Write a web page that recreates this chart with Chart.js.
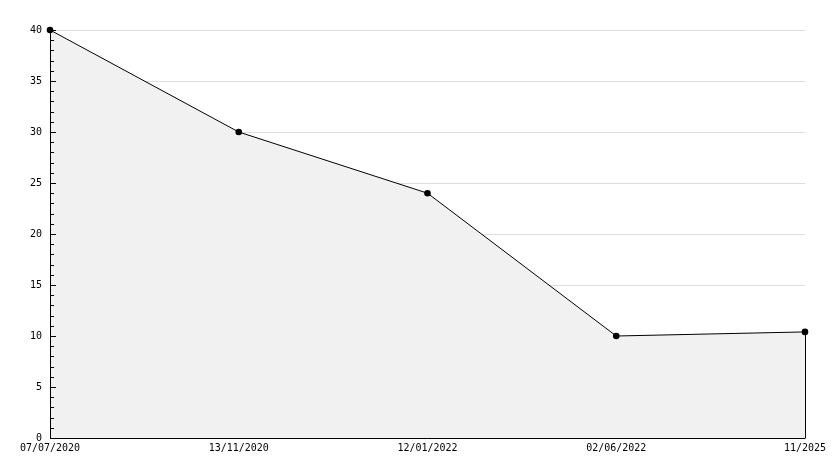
<!DOCTYPE html>
<html><head><meta charset="utf-8">
<style>html,body{margin:0;padding:0;background:#fff}#wrap{width:834px;height:468px}</style>
<script src="https://cdn.jsdelivr.net/npm/chart.js@4/dist/chart.umd.min.js"></script>
</head><body><div id="wrap"><canvas id="c" width="834" height="468"></canvas></div>
<script>
const categories = ["07/07/2020", "13/11/2020", "12/01/2022", "02/06/2022", "11/2025"];
const values = [40, 30, 24, 10, 10.4];
const yTicks = [0, 5, 10, 15, 20, 25, 30, 35, 40];

const axisPlugin = {
  id: 'axisPlugin',
  afterDatasetsDraw(chart) {
    const ctx = chart.ctx, y = chart.scales.y, x = chart.scales.x, a = chart.chartArea;
    ctx.save();
    ctx.strokeStyle = '#000'; ctx.lineWidth = 1;
    ctx.beginPath();
    ctx.moveTo(a.left + 0.5, a.top); ctx.lineTo(a.left + 0.5, a.bottom + 0.5);
    ctx.lineTo(a.right, a.bottom + 0.5);
    const lx = Math.round(x.getPixelForValue(values.length - 1)) + 0.5;
    ctx.moveTo(lx, y.getPixelForValue(values[values.length - 1]));
    ctx.lineTo(lx, a.bottom + 0.5);
    for (let v = 0; v <= 40; v++) {
      const py = Math.round(y.getPixelForValue(v)) + 0.5;
      const len = (v % 5 === 0) ? 5 : 3;
      ctx.moveTo(a.left, py); ctx.lineTo(a.left + 1 + len, py);
    }
    ctx.stroke();
    ctx.restore();
  }
};

new Chart(document.getElementById('c'), {
  type: 'line',
  data: {
    labels: categories,
    datasets: [{
      data: values,
      borderColor: '#000',
      borderWidth: 1,
      backgroundColor: '#f1f1f1',
      fill: 'origin',
      tension: 0,
      clip: false,
      pointStyle: 'circle',
      pointRadius: 3.3,
      pointBackgroundColor: '#000',
      pointBorderColor: '#000',
      pointBorderWidth: 0
    }]
  },
  options: {
    responsive: false,
    animation: false,
    devicePixelRatio: 1,
    layout: { padding: { top: 30, right: 29, left: 0, bottom: 0 } },
    plugins: { legend: { display: false }, tooltip: { enabled: false } },
    scales: {
      x: {
        type: 'category',
        offset: false,
        grid: { display: false, drawTicks: false },
        border: { display: false },
        ticks: { color: '#000', font: { family: 'DejaVu Sans Mono', size: 10 }, padding: 4, maxRotation: 0, autoSkip: false },
        afterFit(s) { s.height = 30; }
      },
      y: {
        min: 0, max: 40,
        afterBuildTicks(s) { s.ticks = yTicks.map(v => ({ value: v })); },
        grid: { color: '#dddddd', drawTicks: false },
        border: { display: false },
        ticks: { color: '#000', font: { family: 'DejaVu Sans Mono', size: 10 }, padding: 8 },
        afterFit(s) { s.width = 50; }
      }
    }
  },
  plugins: [axisPlugin]
});
</script></body></html>
